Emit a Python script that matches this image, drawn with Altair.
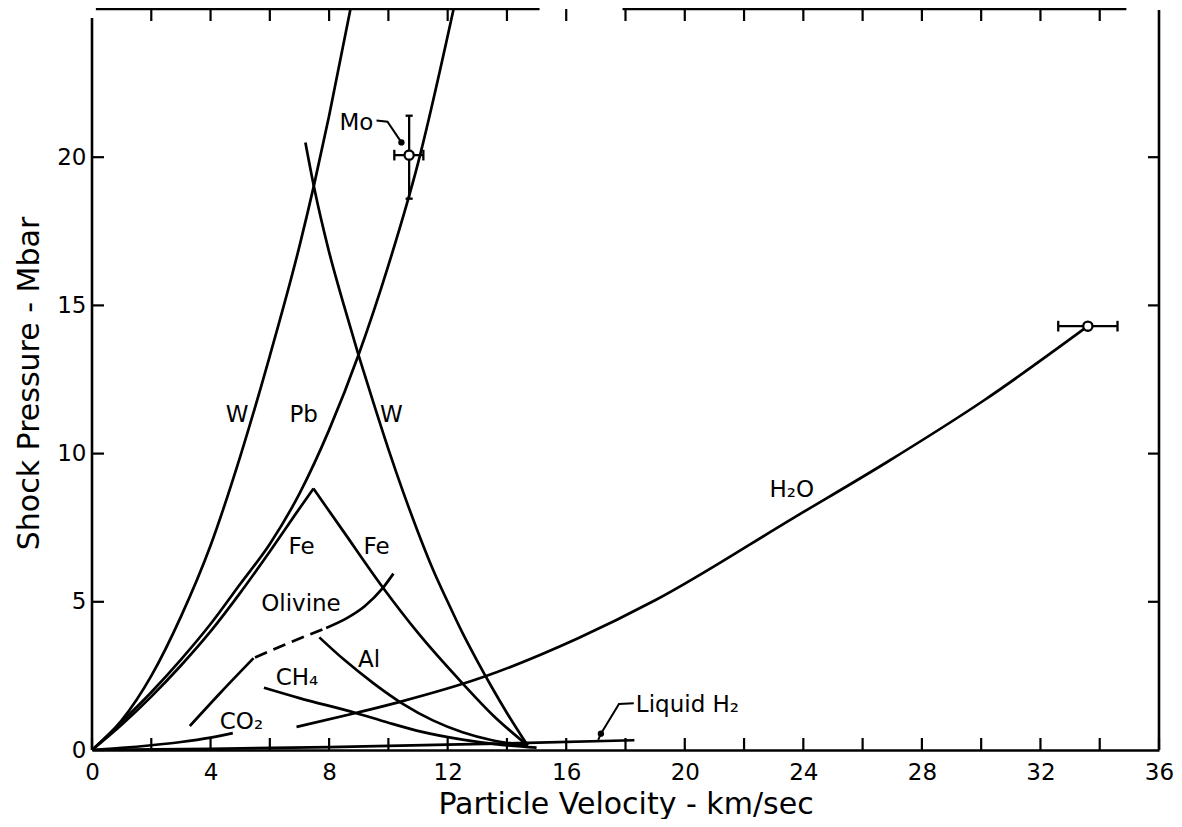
import altair as alt
import pandas as pd

FONT = "DejaVu Sans"
PW, PH = 1067, 741  # plot area size in px

# ---------------- axis ticks / labels ----------------
x_tick_labels = [0, 4, 8, 12, 16, 20, 24, 28, 32, 36]
y_tick_labels = [0, 5, 10, 15, 20]
x_ticks_bottom = list(range(0, 37, 2))
x_ticks_top = list(range(2, 35, 2))
y_ticks_left = [0, 5, 10, 15, 20]
y_ticks_right = [5, 10, 15, 20]
top_border_start = [0.13, 17.9]
top_border_end = [15.1, 34.9]

# ---------------- curves (particle velocity km/s, pressure Mbar) ----------------
w_left_u = [0, 1, 2, 3, 4, 5, 6, 7, 7.5, 8, 8.72]
w_left_p = [0, 1.0, 2.5, 4.5, 6.9, 9.9, 13.3, 17.0, 19.1, 21.4, 25.0]

pb_u = [0, 1, 2, 3, 4, 5, 6, 7, 8, 9, 10, 11, 12.2]
pb_p = [0, 0.95, 1.95, 3.05, 4.25, 5.6, 6.95, 8.65, 10.8, 13.35, 16.35, 19.8, 25.0]

fe_left_u = [0, 1, 2, 3, 4, 5, 6, 7, 7.47]
fe_left_p = [0, 0.85, 1.8, 2.85, 4.0, 5.3, 6.7, 8.15, 8.82]

fe_right_u = [7.47, 8.5, 9.8, 11, 12.5, 13.5, 14.7]
fe_right_p = [8.82, 7.35, 5.5, 3.95, 2.25, 1.2, 0.15]

w_right_u = [7.2, 7.5, 8, 8.5, 9, 9.5, 10, 10.5, 11, 11.5, 12, 12.5, 13, 13.5, 14, 14.7]
w_right_p = [20.5, 18.95, 16.8, 15.0, 13.3, 11.7, 10.15, 8.7, 7.35, 6.1, 5.0, 3.95, 3.0, 2.1, 1.25, 0.15]

al_u = [7.67, 8.5, 9.5, 10.5, 11.5, 12.5, 13.5, 14.7]
al_p = [3.8, 3.05, 2.25, 1.55, 1.0, 0.6, 0.33, 0.15]

ch4_u = [5.8, 7, 8.9, 10, 11.1, 12.5, 13.6, 15.0]
ch4_p = [2.1, 1.75, 1.25, 0.92, 0.62, 0.35, 0.2, 0.08]

h2o_u = [6.9, 8.9, 10.3, 13.2, 16.4, 19.0, 23.7, 26.8, 30.1, 33.6]
h2o_p = [0.78, 1.25, 1.6, 2.46, 3.77, 5.05, 7.85, 9.7, 11.8, 14.3]

lh2_u = [0, 4, 8, 12, 14.7, 18.3]
lh2_p = [0, 0.04, 0.1, 0.18, 0.24, 0.33]

co2_u = [0, 1, 2, 3, 4, 4.75]
co2_p = [0, 0.07, 0.16, 0.27, 0.42, 0.57]

olivine_low_u = [3.3, 4.35, 5.45]
olivine_low_p = [0.81, 1.95, 3.1]
olivine_dash_u = [5.5, 6.5, 7.85]
olivine_dash_p = [3.12, 3.55, 4.1]
olivine_up_u = [7.9, 8.6, 9.2, 9.8, 10.17]
olivine_up_p = [4.12, 4.45, 4.85, 5.45, 5.95]

# ---------------- data points with error bars ----------------
mo_u, mo_p = 10.7, 20.07
mo_p_lo, mo_p_hi = 18.6, 21.4
mo_u_lo, mo_u_hi = 10.2, 11.18
h2o_pt_u, h2o_pt_p = 33.6, 14.3
h2o_u_lo, h2o_u_hi = 32.6, 34.6

# ---------------- annotation leaders ----------------
mo_leader_u = [9.6, 9.97, 10.44]
mo_leader_p = [21.24, 21.2, 20.5]
lh2_leader_u = [17.08, 17.17, 17.78, 18.28]
lh2_leader_p = [0.34, 0.55, 1.55, 1.58]
arrow_dot_u = [10.44, 17.17]
arrow_dot_p = [20.5, 0.55]

# ---------------- labels ----------------
center_labels = ["W", "Pb", "W", "Fe", "Fe", "Olivine", "Al"]
center_label_u = [4.9, 7.14, 10.1, 7.07, 9.6, 7.05, 9.35]
center_label_p = [11.3, 11.3, 11.3, 6.85, 6.85, 4.92, 3.03]
left_labels = ["CH\u2084", "CO\u2082", "H\u2082O", "Liquid H\u2082", "Mo"]
left_label_u = [6.2, 4.31, 22.86, 18.35, 8.35]
left_label_p = [2.43, 0.94, 8.77, 1.52, 21.17]


def curve_df(name, us, ps):
    return pd.DataFrame({"curve": name, "u": us, "p": ps})


solid_df = pd.concat([
    curve_df("W left", w_left_u, w_left_p),
    curve_df("Pb", pb_u, pb_p),
    curve_df("Fe left", fe_left_u, fe_left_p),
    curve_df("Fe right", fe_right_u, fe_right_p),
    curve_df("W right", w_right_u, w_right_p),
    curve_df("Al", al_u, al_p),
    curve_df("CH4", ch4_u, ch4_p),
    curve_df("H2O", h2o_u, h2o_p),
    curve_df("Liquid H2", lh2_u, lh2_p),
    curve_df("CO2", co2_u, co2_p),
    curve_df("Olivine low", olivine_low_u, olivine_low_p),
    curve_df("Olivine up", olivine_up_u, olivine_up_p),
], ignore_index=True)
dash_df = curve_df("Olivine dashed", olivine_dash_u, olivine_dash_p)
leader_df = pd.concat([
    curve_df("Mo leader", mo_leader_u, mo_leader_p),
    curve_df("LH2 leader", lh2_leader_u, lh2_leader_p),
], ignore_index=True)
dots_df = pd.DataFrame({"u": arrow_dot_u, "p": arrow_dot_p})
points_df = pd.DataFrame({"u": [mo_u, h2o_pt_u], "p": [mo_p, h2o_pt_p]})

CAP_DU, CAP_DP = 0.12, 0.18
err_df = pd.DataFrame([
    {"u": mo_u, "u2": mo_u, "p": mo_p_lo, "p2": mo_p_hi},
    {"u": mo_u - CAP_DU, "u2": mo_u + CAP_DU, "p": mo_p_lo, "p2": mo_p_lo},
    {"u": mo_u - CAP_DU, "u2": mo_u + CAP_DU, "p": mo_p_hi, "p2": mo_p_hi},
    {"u": mo_u_lo, "u2": mo_u_hi, "p": mo_p, "p2": mo_p},
    {"u": mo_u_lo, "u2": mo_u_lo, "p": mo_p - CAP_DP, "p2": mo_p + CAP_DP},
    {"u": mo_u_hi, "u2": mo_u_hi, "p": mo_p - CAP_DP, "p2": mo_p + CAP_DP},
    {"u": h2o_u_lo, "u2": h2o_u_hi, "p": h2o_pt_p, "p2": h2o_pt_p},
    {"u": h2o_u_lo, "u2": h2o_u_lo, "p": h2o_pt_p - CAP_DP, "p2": h2o_pt_p + CAP_DP},
    {"u": h2o_u_hi, "u2": h2o_u_hi, "p": h2o_pt_p - CAP_DP, "p2": h2o_pt_p + CAP_DP},
])
center_lab_df = pd.DataFrame({"label": center_labels, "u": center_label_u, "p": center_label_p})
left_lab_df = pd.DataFrame({"label": left_labels, "u": left_label_u, "p": left_label_p})

# ---------------- scales / axes ----------------
xs = alt.Scale(domain=[0, 36], nice=False, zero=False)
ys = alt.Scale(domain=[0, 25], nice=False, zero=False)

xaxis = alt.Axis(values=x_tick_labels, ticks=False, tickSize=0, domain=True,
                 domainColor="black", domainWidth=2.6, grid=False,
                 labelFont=FONT, labelFontSize=23, labelColor="black",
                 labelPadding=11, labelFlush=False, labelOverlap=False,
                 title="Particle Velocity - km/sec", titleFont=FONT,
                 titleFontSize=30, titleFontWeight="normal", titleColor="black",
                 titleY=63, titleBaseline="alphabetic")
yaxis = alt.Axis(values=y_tick_labels, ticks=False, tickSize=0, domain=False,
                 grid=False, labelFont=FONT, labelFontSize=23, labelColor="black",
                 labelPadding=6, labelOverlap=False,
                 title="Shock Pressure - Mbar", titleFont=FONT, titleFontSize=30,
                 titleFontWeight="normal", titleColor="black",
                 titleX=-54, titleY=374, titleBaseline="alphabetic")


def X(f="u"):
    return alt.X(f"{f}:Q", scale=xs, axis=xaxis)


def Y(f="p"):
    return alt.Y(f"{f}:Q", scale=ys, axis=yaxis)


LW = 2.7
layers = []

layers.append(alt.Chart(solid_df).mark_line(color="black", strokeWidth=LW,
                                            interpolate="monotone", clip=True)
              .encode(x=X(), y=Y(), detail="curve:N"))
layers.append(alt.Chart(dash_df).mark_line(color="black", strokeWidth=LW,
                                           strokeDash=[13, 7], interpolate="monotone")
              .encode(x=X(), y=Y(), detail="curve:N"))
layers.append(alt.Chart(leader_df).mark_line(color="black", strokeWidth=2.0)
              .encode(x=X(), y=Y(), detail="curve:N"))
layers.append(alt.Chart(dots_df).mark_point(shape="circle", filled=True, color="black",
                                            size=40, opacity=1)
              .encode(x=X(), y=Y()))
layers.append(alt.Chart(err_df).mark_rule(color="black", strokeWidth=2.3)
              .encode(x=X(), x2="u2:Q", y=Y(), y2="p2:Q"))
layers.append(alt.Chart(points_df).mark_point(shape="circle", filled=True, fill="white",
                                              stroke="black", strokeWidth=2.3,
                                              size=85, opacity=1)
              .encode(x=X(), y=Y()))
layers.append(alt.Chart(center_lab_df).mark_text(font=FONT, fontSize=23, color="black",
                                                 align="center", baseline="middle")
              .encode(x=X(), y=Y(), text="label:N"))
layers.append(alt.Chart(left_lab_df).mark_text(font=FONT, fontSize=23, color="black",
                                               align="left", baseline="middle")
              .encode(x=X(), y=Y(), text="label:N"))

# frame and inward ticks
TK = 12
layers.append(alt.Chart(pd.DataFrame({"u": top_border_start, "u2": top_border_end}))
              .mark_rule(color="black", strokeWidth=2.6)
              .encode(x=X(), x2="u2:Q", y=alt.value(0)))
layers.append(alt.Chart(pd.DataFrame({"k": [0]})).mark_rule(color="black", strokeWidth=2.6)
              .encode(x=alt.value(0), y=alt.value(9), y2=alt.value(PH)))
layers.append(alt.Chart(pd.DataFrame({"k": [0]})).mark_rule(color="black", strokeWidth=2.6)
              .encode(x=alt.value(PW), y=alt.value(1), y2=alt.value(PH)))
layers.append(alt.Chart(pd.DataFrame({"u": x_ticks_bottom})).mark_rule(color="black", strokeWidth=2.2)
              .encode(x=X(), y=alt.value(PH), y2=alt.value(PH - TK)))
layers.append(alt.Chart(pd.DataFrame({"u": x_ticks_top})).mark_rule(color="black", strokeWidth=2.2)
              .encode(x=X(), y=alt.value(0), y2=alt.value(TK)))
layers.append(alt.Chart(pd.DataFrame({"p": y_ticks_left})).mark_rule(color="black", strokeWidth=2.2)
              .encode(y=Y(), x=alt.value(0), x2=alt.value(TK)))
layers.append(alt.Chart(pd.DataFrame({"p": y_ticks_right})).mark_rule(color="black", strokeWidth=2.2)
              .encode(y=Y(), x=alt.value(PW), x2=alt.value(PW - 11)))

chart = (alt.layer(*layers)
         .properties(width=PW, height=PH, background="white",
                     padding={"left": 84, "top": 1, "right": 15, "bottom": 69},
                     autosize=alt.AutoSizeParams(type="none"))
         .configure_view(stroke=None))

chart.save("out.html", embed_options={"renderer": "svg", "actions": False})
